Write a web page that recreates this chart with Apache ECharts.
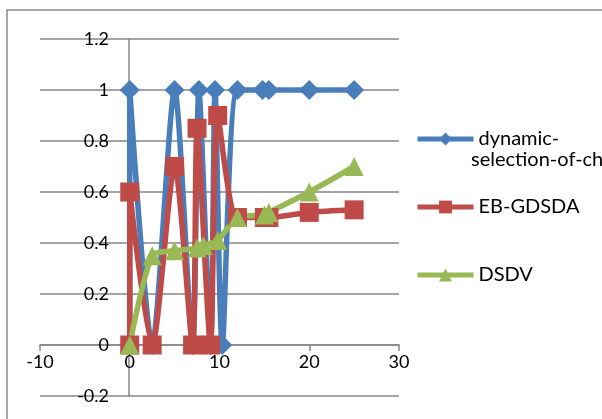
<!DOCTYPE html>
<html>
<head>
<meta charset="utf-8">
<script src="https://cdn.jsdelivr.net/npm/echarts@6/dist/echarts.min.js"></script>
<style>
html,body{margin:0;padding:0;background:#fff;}
#c{width:602px;height:419px;}
</style>
</head>
<body>
<div id="c"></div>
<script>
// Data
const seriesNames = ['dynamic-selection-of-ch', 'EB-GDSDA', 'DSDV'];
const dynamicX = [0, 0, 2.5, 5, 7, 7.7, 9, 9.5, 10.3, 12, 14.8, 15.5, 20, 25];
const dynamicY = [0, 1, 0, 1, 0, 1, 0, 1, 0, 1, 1, 1, 1, 1];
const ebX = [0, 0, 2.5, 5, 7, 7.5, 9, 9.8, 12, 15, 15.5, 20, 25];
const ebY = [0, 0.6, 0, 0.7, 0, 0.85, 0, 0.9, 0.5, 0.5, 0.5, 0.52, 0.53];
const dsdvX = [0, 2.5, 5, 7.5, 8.2, 9.8, 12, 15, 15.5, 20, 25];
const dsdvY = [0, 0.35, 0.37, 0.38, 0.39, 0.41, 0.5, 0.51, 0.52, 0.6, 0.7];
const xTicks = [-10, 0, 10, 20, 30];
const yTicks = [-0.2, 0, 0.2, 0.4, 0.6, 0.8, 1, 1.2];

const pair = (xs, ys) => xs.map((x, i) => [x, ys[i]]);
const FONT = 'Lato';
const colors = ['#4A7EBB', '#BE4B48', '#98B954'];
const symbols = ['diamond', 'rect', 'triangle'];
const symSizes = [[20, 20], 19, 19];
const datas = [pair(dynamicX, dynamicY), pair(ebX, ebY), pair(dsdvX, dsdvY)];

const chart = echarts.init(document.getElementById('c'), null, {renderer: 'canvas'});
const series = seriesNames.map((n, i) => ({
  name: n,
  type: 'line',
  data: datas[i],
  smooth: 0.25,
  symbol: symbols[i],
  symbolSize: symSizes[i],
  showAllSymbol: true,
  lineStyle: {color: colors[i], width: 5.5},
  itemStyle: {color: colors[i]},
  animation: false
}));

const legendTops = [124, 192, 260];
const legends = seriesNames.map((n, i) => ({
  data: [n],
  left: 410,
  top: legendTops[i],
  itemWidth: 56,
  itemHeight: 16,
  itemGap: 5,
  lineStyle: {width: 5},
  formatter: (name) => name === seriesNames[0] ? 'dynamic-' : name,
  textStyle: {fontFamily: FONT, fontSize: 20, color: '#000'},
  selectedMode: false
}));

chart.setOption({
  animation: false,
  backgroundColor: '#fff',
  color: colors,
  grid: {left: 40, right: 203, top: 39, bottom: 23, containLabel: false},
  xAxis: {
    type: 'value', min: xTicks[0], max: xTicks[xTicks.length - 1], interval: 10,
    position: 'bottom', offset: -51,
    axisLine: {show: true, onZero: false, lineStyle: {color: '#868686', width: 1.5}},
    axisTick: {show: true, length: 6, inside: false, lineStyle: {color: '#868686', width: 1.5}},
    axisLabel: {fontFamily: FONT, fontSize: 18, color: '#000', margin: 8},
    splitLine: {show: false}
  },
  yAxis: {
    type: 'value', min: yTicks[0], max: yTicks[yTicks.length - 1], interval: 0.2,
    position: 'left', offset: -89,
    axisLine: {show: true, onZero: false, lineStyle: {color: '#868686', width: 1.5}},
    axisTick: {show: false},
    axisLabel: {fontFamily: FONT, fontSize: 18, color: '#000', margin: 20,
      formatter: v => String(Math.round(v * 10) / 10)},
    splitLine: {show: true, lineStyle: {color: '#868686', width: 1.5}}
  },
  legend: legends,
  graphic: [
    {type: 'rect', shape: {x: 7, y: 10, width: 620, height: 430}, style: {fill: 'none', stroke: '#8a8a8a', lineWidth: 1.5}, silent: true, z: -1},
    {type: 'text', left: 471, top: 150, style: {text: 'selection-of-ch', fontFamily: FONT, fontSize: 20, fill: '#000'}}
  ],
  series: series
});
</script>
</body>
</html>
